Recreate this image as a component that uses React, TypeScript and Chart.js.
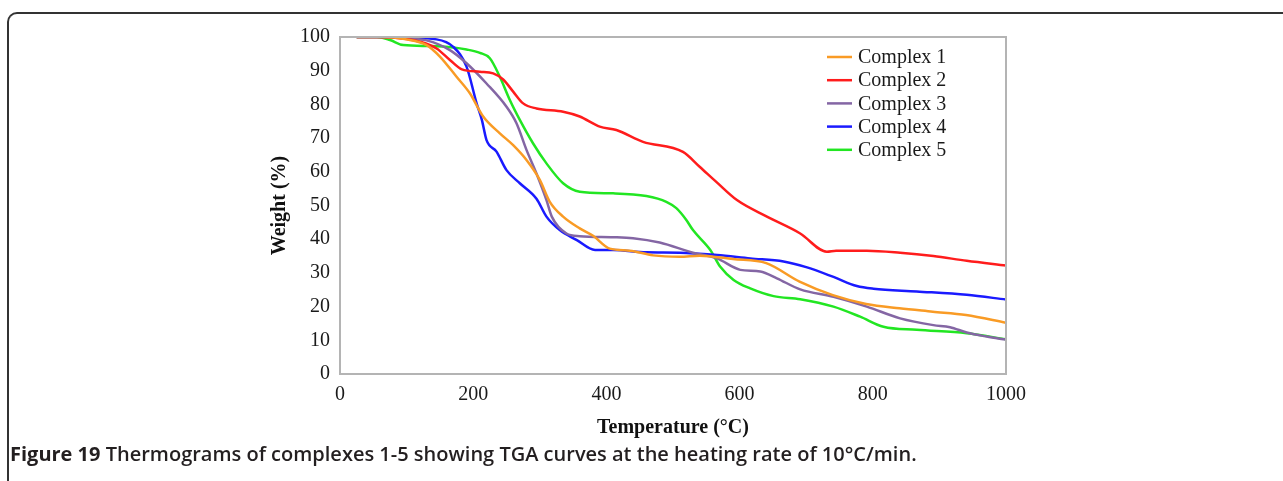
import React, { useEffect, useRef } from "react";
import { Chart, registerables } from "chart.js";

Chart.register(...registerables);

const seriesNames = ["Complex 1", "Complex 2", "Complex 3", "Complex 4", "Complex 5"];
const seriesColors = ["#f99b25", "#ff1c1c", "#8466a4", "#1a1aff", "#22e622"];

const c1Temp = [25, 60, 100, 130, 150, 175, 195, 215, 240, 260, 280, 300, 315, 335, 360, 380, 405, 435, 470, 510, 540, 590, 640, 690, 740, 790, 840, 890, 940, 1000];
const c1Weight = [100, 100, 99.3, 97.6, 94.2, 88.2, 83.3, 76.4, 71.4, 67.9, 63.5, 57.6, 51.1, 46.7, 43.2, 41.0, 37.2, 36.6, 35.2, 34.8, 35.1, 34.1, 32.9, 27.4, 23.4, 20.8, 19.5, 18.5, 17.5, 15.2];

const c2Temp = [25, 60, 100, 120, 145, 165, 183, 210, 230, 245, 260, 275, 295, 335, 360, 390, 415, 455, 515, 540, 565, 596, 641, 691, 731, 745, 791, 841, 891, 941, 1000];
const c2Weight = [100, 100, 99.4, 98.6, 96.6, 93.2, 90.4, 89.7, 89.2, 87.4, 83.8, 80.3, 78.8, 77.8, 76.4, 73.4, 72.4, 68.9, 65.9, 61.5, 57.0, 51.6, 46.7, 41.7, 36.3, 36.6, 36.6, 36.0, 35.0, 33.6, 32.2];

const c3Temp = [25, 60, 100, 130, 165, 190, 220, 250, 265, 280, 295, 310, 318, 340, 360, 410, 440, 480, 530, 566, 601, 631, 656, 691, 741, 791, 841, 891, 916, 941, 971, 1000];
const c3Weight = [100, 100, 99.6, 99.0, 96.1, 92.2, 86.2, 79.3, 74.4, 66.5, 59.5, 51.6, 46.7, 41.7, 40.9, 40.6, 40.3, 39.0, 36.0, 34.3, 30.9, 30.4, 28.4, 25.1, 22.9, 20.0, 16.5, 14.5, 13.9, 12.3, 11.1, 10.2];

const c4Temp = [25, 60, 100, 145, 170, 190, 205, 213, 220, 235, 250, 270, 295, 310, 330, 355, 383, 410, 460, 510, 566, 616, 666, 700, 741, 776, 801, 866, 941, 1000];
const c4Weight = [100, 100, 99.8, 99.3, 97.1, 91.2, 80.4, 75.4, 69.4, 66.0, 60.5, 56.6, 52.0, 46.7, 42.7, 39.8, 36.8, 36.8, 36.1, 36.0, 35.3, 34.3, 33.4, 31.7, 28.8, 26.1, 25.3, 24.5, 23.5, 22.1];

const c5Temp = [25, 55, 75, 95, 135, 170, 190, 210, 225, 240, 255, 270, 290, 310, 335, 360, 410, 460, 490, 505, 520, 530, 556, 571, 591, 616, 651, 691, 741, 781, 816, 866, 941, 1000];
const c5Weight = [100, 100, 99.1, 97.6, 97.3, 96.9, 96.3, 95.3, 93.7, 88.2, 81.3, 75.4, 68.4, 62.5, 56.6, 54.1, 53.6, 52.8, 51.1, 49.2, 45.7, 42.7, 36.8, 31.8, 27.9, 25.4, 23.1, 22.2, 20.0, 17.0, 14.0, 13.1, 12.1, 10.3];

const xTicks = [0, 200, 400, 600, 800, 1000];
const yTicks = [0, 10, 20, 30, 40, 50, 60, 70, 80, 90, 100];

const temps = [c1Temp, c2Temp, c3Temp, c4Temp, c5Temp];
const weights = [c1Weight, c2Weight, c3Weight, c4Weight, c5Weight];

const SERIF = "'Liberation Serif', 'Times New Roman', serif";

const frameAndLegend = {
  id: "frameAndLegend",
  afterDraw(chart: any) {
    const { ctx, chartArea } = chart;
    ctx.save();
    ctx.strokeStyle = "#b4b4b4";
    ctx.lineWidth = 2;
    ctx.beginPath();
    ctx.moveTo(chartArea.left, chartArea.top);
    ctx.lineTo(chartArea.right, chartArea.top);
    ctx.lineTo(chartArea.right, chartArea.bottom);
    ctx.stroke();
    // legend
    const lx = chartArea.left + 487;
    const ly = chartArea.top + 20;
    ctx.font = `20px ${SERIF}`;
    ctx.textBaseline = "middle";
    ctx.textAlign = "left";
    chart.data.datasets.forEach((ds: any, i: number) => {
      const y = ly + i * 23.2;
      ctx.strokeStyle = ds.borderColor;
      ctx.lineWidth = 2.5;
      ctx.beginPath();
      ctx.moveTo(lx, y);
      ctx.lineTo(lx + 25, y);
      ctx.stroke();
      ctx.fillStyle = "#1a1a1a";
      ctx.fillText(ds.label, lx + 31, y + 1);
    });
    ctx.restore();
  },
};

export default function App() {
  const ref = useRef<HTMLCanvasElement | null>(null);
  useEffect(() => {
    if (!ref.current) return;
    const chart = new Chart(ref.current, {
      type: "line",
      data: {
        datasets: seriesNames.map((name, i) => ({
          label: name,
          data: temps[i].map((t, j) => ({ x: t, y: weights[i][j] })),
          borderColor: seriesColors[i],
          backgroundColor: seriesColors[i],
          borderWidth: 2.5,
          pointRadius: 0,
          fill: false,
          cubicInterpolationMode: "monotone" as const,
        })),
      },
      options: {
        animation: false,
        responsive: false,
        maintainAspectRatio: false,
        layout: { padding: { top: 12, right: 54, left: 0, bottom: 0 } },
        plugins: { legend: { display: false }, tooltip: { enabled: false } },
        scales: {
          x: {
            type: "linear",
            min: 0,
            max: 1000,
            afterBuildTicks: (axis: any) => {
              axis.ticks = xTicks.map((v) => ({ value: v }));
            },
            afterFit: (axis: any) => {
              axis.height = 76;
            },
            grid: { display: false, drawTicks: false },
            border: { display: true, color: "#b4b4b4", width: 2 },
            ticks: {
              color: "#1a1a1a",
              font: { family: SERIF, size: 20 },
              padding: 9,
              maxRotation: 0,
              callback: (v: any) => String(v),
            },
            title: {
              display: true,
              text: "Temperature (°C)",
              color: "#111",
              font: { family: SERIF, size: 20, weight: "bold" },
              padding: { top: 0, bottom: 10 },
            },
          },
          y: {
            type: "linear",
            min: 0,
            max: 100,
            afterBuildTicks: (axis: any) => {
              axis.ticks = yTicks.map((v) => ({ value: v }));
            },
            afterFit: (axis: any) => {
              axis.width = 80;
            },
            grid: { display: false, drawTicks: false },
            border: { display: true, color: "#b4b4b4", width: 2 },
            ticks: { color: "#1a1a1a", font: { family: SERIF, size: 20 }, padding: 10, callback: (v: any) => String(v) },
            title: {
              display: true,
              text: "Weight (%)",
              color: "#111",
              font: { family: SERIF, size: 20, weight: "bold" },
              padding: { top: 8, bottom: 0 },
            },
          },
        },
      },
      plugins: [frameAndLegend],
    });
    return () => chart.destroy();
  }, []);

  return (
    <div style={{ position: "fixed", left: 0, top: 0, width: 1283, height: 481, background: "#fff", overflow: "hidden" }}>
      <div
        style={{
          position: "absolute",
          left: 7,
          top: 12,
          width: 1300,
          height: 500,
          borderTop: "2px solid #333",
          borderLeft: "2px solid #333",
          borderTopLeftRadius: 10,
          boxSizing: "border-box",
        }}
      />
      <canvas ref={ref} width={800} height={435} style={{ position: "absolute", left: 260, top: 15, width: 800, height: 435 }} />
      <div
        style={{
          position: "absolute",
          left: 10,
          top: 440,
          fontFamily: "'Open Sans', 'Noto Sans', sans-serif",
          fontSize: 20,
          lineHeight: "27px",
          fontWeight: 600,
          color: "#231f20",
          whiteSpace: "nowrap",
        }}
      >
        <span style={{ fontWeight: 700 }}>Figure 19</span> Thermograms of complexes 1-5 showing TGA curves at the heating rate of 10°C/min.
      </div>
    </div>
  );
}
